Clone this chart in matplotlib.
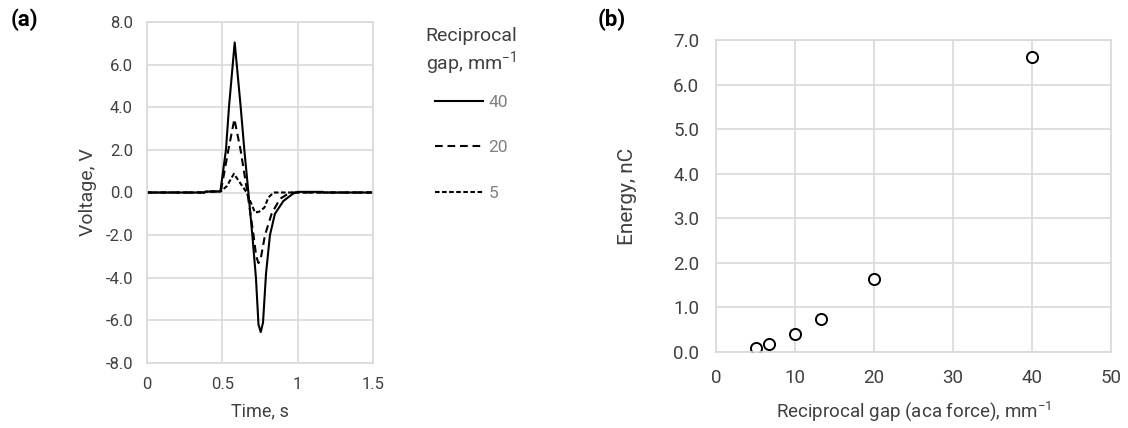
import matplotlib
matplotlib.use('Agg')
import matplotlib.pyplot as plt
from matplotlib.ticker import FormatStrFormatter, FuncFormatter

plt.rcParams['font.family'] = ['Roboto', 'DejaVu Sans']
plt.rcParams['axes.unicode_minus'] = False

# (a) voltage traces, time in s, voltage in V
t_40 = [0.0, 0.38, 0.39, 0.487, 0.524, 0.544, 0.582, 0.622, 0.646, 0.673, 0.699, 0.723,
        0.74, 0.755, 0.77, 0.79, 0.816, 0.849, 0.905, 0.97, 1.0, 1.166, 1.17, 1.5]
v_40 = [0.0, 0.0, 0.04, 0.05, 2.0, 4.0, 7.04, 4.0, 2.0, 0.0, -2.0, -4.0,
        -6.2, -6.55, -6.1, -3.8, -2.0, -1.0, -0.4, -0.05, 0.03, 0.03, 0.0, 0.0]
t_20 = [0.0, 0.38, 0.39, 0.49, 0.54, 0.58, 0.621, 0.666, 0.707, 0.725, 0.74, 0.755,
        0.783, 0.827, 0.882, 0.95, 1.5]
v_20 = [0.0, 0.0, 0.04, 0.05, 2.0, 3.44, 2.0, 0.0, -2.0, -3.0, -3.31, -3.1,
        -2.0, -1.0, -0.3, 0.0, 0.0]
t_5 = [0.0, 0.38, 0.39, 0.49, 0.53, 0.577, 0.661, 0.717, 0.745, 0.78, 0.805, 0.84, 1.5]
v_5 = [0.0, 0.0, 0.04, 0.05, 0.3, 0.88, 0.0, -0.94, -0.9, -0.7, -0.24, 0.0, 0.0]

# (b) energy vs reciprocal gap
gap = [5, 6.7, 10, 13.3, 20, 40]
energy = [0.10, 0.19, 0.40, 0.73, 1.64, 6.62]

grid_c = '#d9d9d9'
tick_c = '#404040'

fig = plt.figure(figsize=(11.28, 4.28), dpi=100)
ax1 = fig.add_axes([147/1128, 65/428, 226/1128, 341/428])
ax2 = fig.add_axes([716/1128, 76/428, 395/1128, 312/428])

def style_ax(ax, size, pad):
    ax.grid(True, color=grid_c, lw=1.2)
    ax.set_axisbelow(True)
    for s in ax.spines.values():
        s.set_color(grid_c)
        s.set_linewidth(1.2)
    ax.tick_params(length=0, labelsize=size, colors=tick_c, pad=pad)

ax1.plot(t_40, v_40, color='black', lw=1.5, label='40')
ax1.plot(t_20, v_20, color='black', lw=1.5, dashes=(3.7, 2.3), label='20')
ax1.plot(t_5, v_5, color='black', lw=1.5, dashes=(2.2, 1.2), label='5')
ax1.set_xlim(0, 1.5)
ax1.set_ylim(-8, 8)
ax1.set_xticks([0, 0.5, 1, 1.5])
ax1.set_yticks(range(-8, 9, 2))
ax1.yaxis.set_major_formatter(FormatStrFormatter('%.1f'))
ax1.xaxis.set_major_formatter(FuncFormatter(lambda v, p: ('%g' % v)))
style_ax(ax1, 12, 10)
ax1.set_xlabel('Time, s', fontsize=13, color=tick_c)
ax1.set_ylabel('Voltage, V', fontsize=14, color=tick_c)
ax1.xaxis.label.set_va('center')
ax1.yaxis.label.set_va('center')
ax1.xaxis.set_label_coords(0.5, -0.141)
ax1.yaxis.set_label_coords(-0.261, 0.5)

leg = ax1.legend(title='Reciprocal\ngap, $\\mathregular{mm^{-1}}$', loc='upper left',
                 bbox_to_anchor=(410/1128, 1 - 11/428), bbox_transform=fig.transFigure,
                 frameon=False, fontsize=12.5, title_fontsize=14, handlelength=2.8,
                 handletextpad=0.3, labelspacing=1.75, labelcolor='#808080')
leg.get_title().set_color(tick_c)
leg.get_title().set_multialignment('center')
leg._legend_box.align = 'center'
leg._legend_box.sep = 13

ax2.plot(gap, energy, ls='none', marker='o', ms=8, mfc='white', mec='black', mew=1.4)
ax2.set_xlim(0, 50)
ax2.set_ylim(0, 7)
ax2.set_xticks(range(0, 51, 10))
ax2.set_yticks(range(0, 8))
ax2.yaxis.set_major_formatter(FormatStrFormatter('%.1f'))
style_ax(ax2, 13.5, 12)
ax2.set_xlabel('Reciprocal gap (aca force), $\\mathregular{mm^{-1}}$', fontsize=13.5, color=tick_c)
ax2.set_ylabel('Energy, nC', fontsize=15, color=tick_c)
ax2.xaxis.label.set_va('center')
ax2.yaxis.label.set_va('center')
ax2.xaxis.set_label_coords(0.5, -0.189)
ax2.yaxis.set_label_coords(-0.225, 0.5)

fig.text(24/1128, 1 - 20/428, '(a)', fontsize=16, fontweight='bold', ha='center', va='center')
fig.text(612/1128, 1 - 20/428, '(b)', fontsize=16, fontweight='bold', ha='center', va='center')

fig.savefig('out.png', dpi=100)
